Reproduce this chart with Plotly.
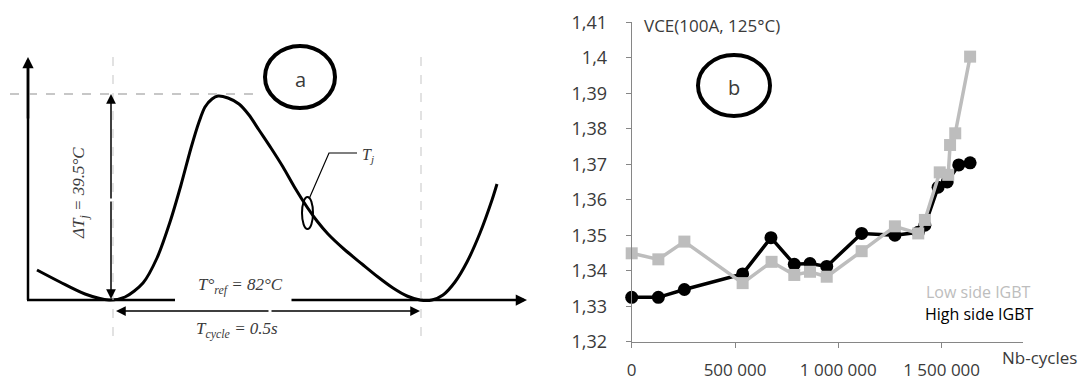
import plotly.graph_objects as go

# ---------------- Panel b data ----------------
nb_high = [0, 129000, 255000, 537000, 674000, 787000, 863000, 944000, 1113000,
           1274000, 1387000, 1419000, 1483000, 1527000, 1583000, 1638000]
vce_high = [1.3325, 1.3325, 1.3347, 1.3391, 1.3493, 1.3418, 1.3420, 1.3412, 1.3505,
            1.3500, 1.3508, 1.3528, 1.3635, 1.3650, 1.3698, 1.3704]
nb_low = [0, 129000, 255000, 537000, 677000, 787000, 863000, 944000, 1113000,
          1274000, 1387000, 1419000, 1491000, 1532000, 1541000, 1566000, 1638000]
vce_low = [1.3449, 1.3432, 1.3482, 1.3365, 1.3425, 1.3388, 1.3397, 1.3383, 1.3455,
           1.3525, 1.3505, 1.3543, 1.3677, 1.3670, 1.3754, 1.3787, 1.4003]
y_tickvals = [1.32, 1.33, 1.34, 1.35, 1.36, 1.37, 1.38, 1.39, 1.40, 1.41]
y_ticktext = ["1,32", "1,33", "1,34", "1,35", "1,36", "1,37", "1,38", "1,39", "1,4", "1,41"]
x_tickvals = [0, 500000, 1000000, 1500000]
x_ticktext = ["0", "500 000", "1 000 000", "1 500 000"]

# ---------------- Panel a schematic ----------------
curve_x = [37, 60, 85, 109, 125, 143, 157, 170, 181, 191, 199, 205, 212, 218,
           228, 239, 249, 259, 271, 283, 295, 307, 317, 328, 345, 362, 378, 393,
           407, 420, 432, 443, 455, 467, 480, 492, 497]
curve_y = [270, 282, 294, 300, 297, 283, 258, 222, 185, 148, 122, 107, 99, 96,
           98, 104, 115, 130, 148, 167, 188, 207, 221, 234, 250, 264, 277, 288,
           296, 300, 300, 295, 282, 262, 233, 200, 184]

GRAY = "#BDBDBD"
AX = "#868686"
TXT = "#3a3a3a"
SANS = "Open Sans"
SERIF = "Liberation Serif"

fig = go.Figure()

# schematic curve
fig.add_trace(go.Scatter(x=curve_x, y=curve_y, mode="lines",
                         line=dict(color="black", width=3, shape="spline", smoothing=0.8),
                         xaxis="x", yaxis="y", hoverinfo="skip", showlegend=False))

# panel b series
fig.add_trace(go.Scatter(x=nb_high, y=vce_high, mode="lines+markers", name="High side IGBT",
                         line=dict(color="black", width=3.5),
                         marker=dict(symbol="circle", size=13, color="black"),
                         xaxis="x2", yaxis="y2", cliponaxis=False, showlegend=False))
fig.add_trace(go.Scatter(x=nb_low, y=vce_low, mode="lines+markers", name="Low side IGBT",
                         line=dict(color=GRAY, width=3.5),
                         marker=dict(symbol="square", size=12, color=GRAY),
                         xaxis="x2", yaxis="y2", cliponaxis=False, showlegend=False))

shapes = []
# panel a axes lines
shapes.append(dict(type="line", xref="x", yref="y", x0=28, y0=300, x1=28, y1=62,
                   line=dict(color="black", width=2.5)))
shapes.append(dict(type="line", xref="x", yref="y", x0=27, y0=300, x1=175, y1=300,
                   line=dict(color="black", width=2.5)))
# dashed guides
shapes.append(dict(type="line", xref="x", yref="y", x0=10, y0=94, x1=255, y1=94,
                   line=dict(color="#b5b5b5", width=1.5, dash="dash")))
shapes.append(dict(type="line", xref="x", yref="y", x0=113, y0=57, x1=113, y1=340,
                   line=dict(color="#c5c5c5", width=1, dash="dash")))
shapes.append(dict(type="line", xref="x", yref="y", x0=421, y0=57, x1=421, y1=340,
                   line=dict(color="#c5c5c5", width=1, dash="dash")))
# Tj marker ellipse and leader
shapes.append(dict(type="circle", xref="x", yref="y", x0=302, y0=197, x1=313, y1=229,
                   line=dict(color="black", width=2)))
shapes.append(dict(type="path", xref="x", yref="y", path="M 309 199 L 329 153 L 357 153",
                   line=dict(color="black", width=1.2)))
# label circles
shapes.append(dict(type="circle", xref="x", yref="y", x0=265, y0=46, x1=335, y1=108,
                   line=dict(color="black", width=4)))
shapes.append(dict(type="circle", xref="x", yref="y", x0=698, y0=55, x1=770, y1=116,
                   line=dict(color="black", width=4)))

annotations = []
def arrow(xh, yh, xt, yt, w=1.5, size=1.0, head=2):
    annotations.append(dict(x=xh, y=yh, ax=xt, ay=yt, xref="x", yref="y", axref="x", ayref="y",
                            text="", showarrow=True, arrowhead=head, arrowsize=size,
                            arrowwidth=w, arrowcolor="black"))

arrow(28, 57, 28, 120, w=2.5, size=0.9)       # y axis arrow
arrow(527, 300, 290, 300, w=2.5, size=0.9)    # x axis arrow (after gap)
arrow(111, 94, 111, 200, w=1.5, size=1.3)     # delta T double arrow
arrow(111, 299, 111, 200, w=1.5, size=1.3)
arrow(116, 311, 270, 311, w=1.5, size=1.3)    # T cycle double arrow
arrow(420, 311, 270, 311, w=1.5, size=1.3)

def txt(x, y, s, size, color=TXT, family=SANS, angle=0, xanchor="center"):
    annotations.append(dict(x=x, y=y, xref="x", yref="y", text=s, showarrow=False,
                            textangle=angle, xanchor=xanchor, yanchor="middle",
                            font=dict(size=size, color=color, family=family)))

txt(300, 79, "a", 20)
txt(734, 87, "b", 20)
txt(240, 286, "<i>T°<sub>ref</sub> = 82°C</i>", 17, family=SERIF)
txt(237, 330, "<i>T<sub>cycle</sub> = 0.5s</i>", 17, family=SERIF)
txt(80, 193, "<i>ΔT<sub>j</sub> = 39.5°C</i>", 17, family=SERIF, angle=-90)
txt(368, 155, "<i>T<sub>j</sub></i>", 16, family=SERIF)

# panel b texts
txt(642, 25, "VCE(100A, 125°C)", 17, xanchor="left")
txt(1079, 357, "Nb-cycles", 17, xanchor="right")
txt(1033, 292, "Low side IGBT", 16, color=GRAY, xanchor="right")
txt(1036, 314, "High side IGBT", 16, color="black", xanchor="right")

fig.update_layout(
    width=1084, height=380,
    margin=dict(l=0, r=0, t=0, b=0, autoexpand=False),
    paper_bgcolor="white", plot_bgcolor="rgba(0,0,0,0)",
    shapes=shapes, annotations=annotations,
    xaxis=dict(domain=[0, 1], range=[0, 1084], visible=False, fixedrange=True),
    yaxis=dict(domain=[0, 1], range=[380, 0], visible=False, fixedrange=True),
    xaxis2=dict(domain=[631.7 / 1084, 1023 / 1084], range=[0, 1894000], anchor="y2",
                tickvals=x_tickvals, ticktext=x_ticktext, showgrid=False, zeroline=False,
                showline=True, linecolor=AX, linewidth=1, ticks="outside", ticklen=5,
                tickcolor=AX, ticklabelstandoff=8, automargin=False,
                tickfont=dict(family=SANS, size=17, color=TXT)),
    yaxis2=dict(domain=[(380 - 341.7) / 380, (380 - 22.2) / 380], range=[1.32, 1.41],
                anchor="x2", tickvals=y_tickvals, ticktext=y_ticktext, showgrid=False,
                zeroline=False, showline=True, linecolor=AX, linewidth=1, ticks="outside",
                ticklen=5, tickcolor=AX, ticklabelstandoff=15, automargin=False,
                tickfont=dict(family=SANS, size=18, color=TXT)),
    showlegend=False,
)

fig.write_html("out.html", config={"displayModeBar": False},
               post_script="document.body.style.margin='0';document.body.style.overflow='hidden';")
